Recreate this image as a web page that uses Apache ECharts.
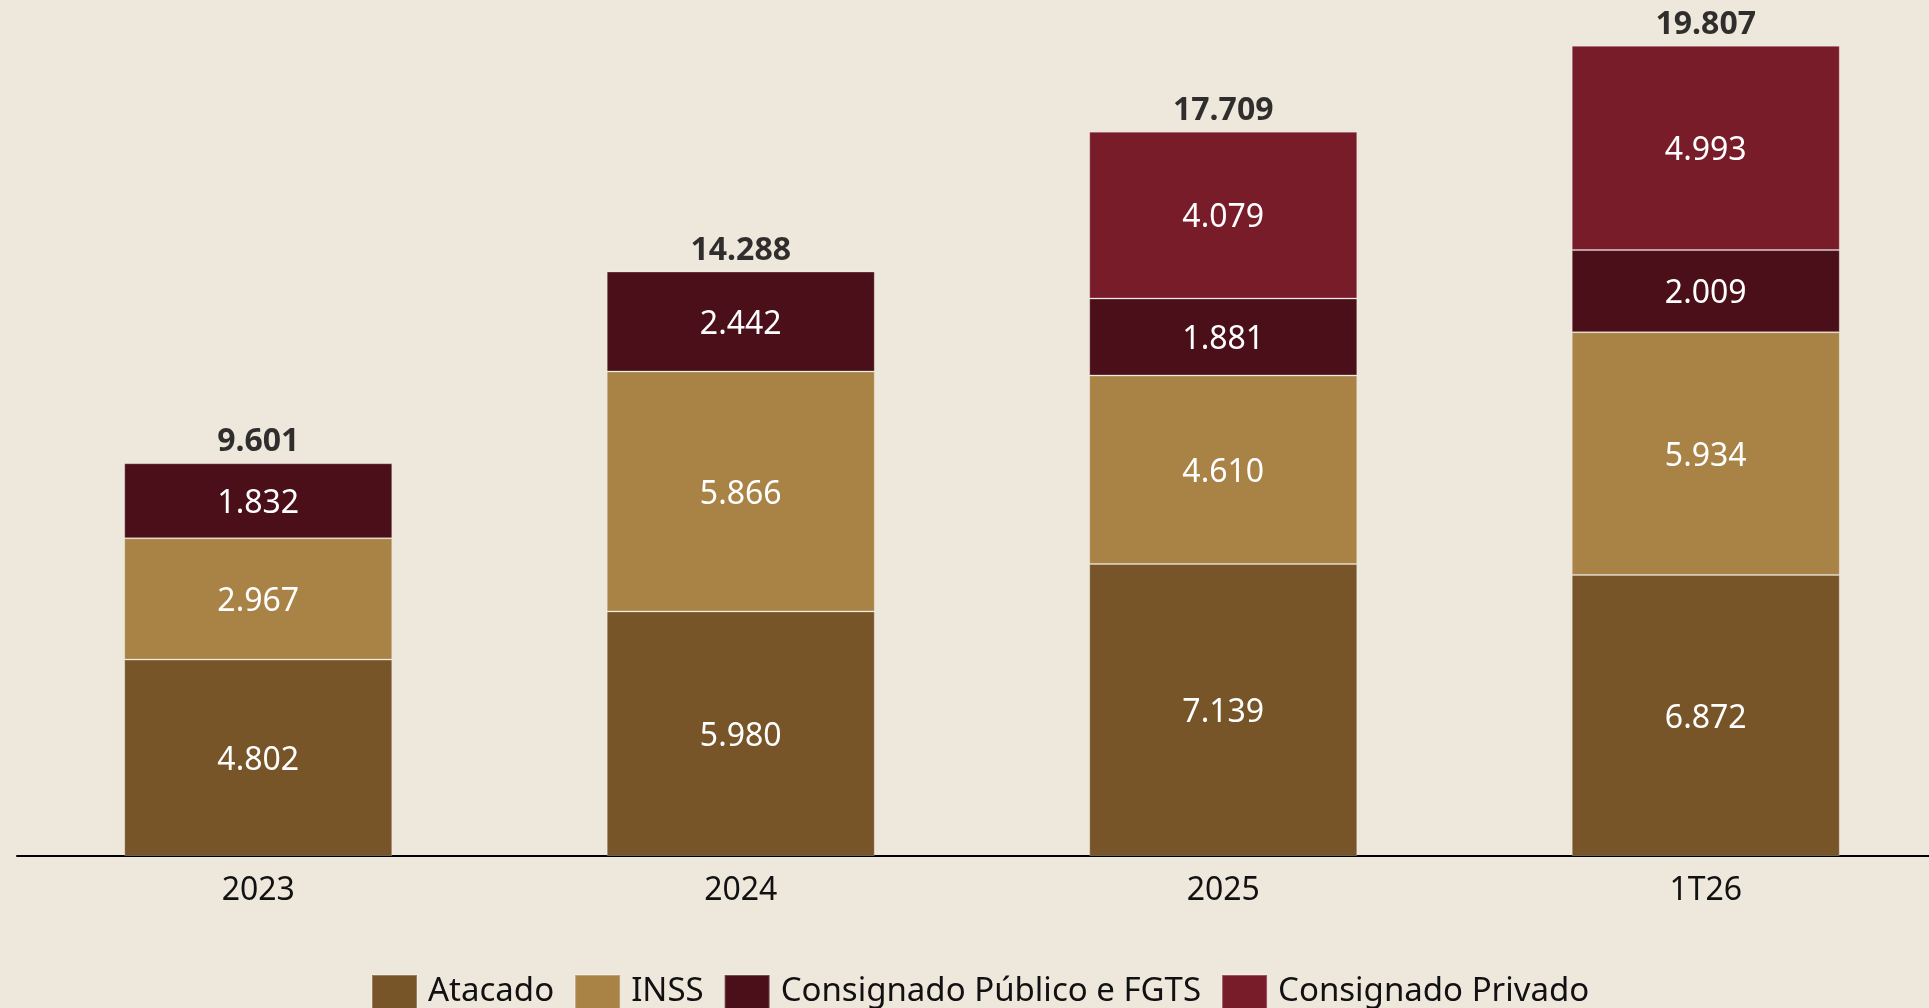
<!DOCTYPE html>
<html><head><meta charset="utf-8">
<script src="https://cdn.jsdelivr.net/npm/echarts@6/dist/echarts.min.js"></script>
<style>html,body{margin:0;padding:0;background:#EEE7DC;overflow:hidden;width:1929px;height:1008px;}#c{width:1947px;height:1008px;}</style>
</head><body><div id="c"></div>
<script>
const categories = ['2023', '2024', '2025', '1T26'];
const atacado = [4802, 5980, 7139, 6872];
const inss = [2967, 5866, 4610, 5934];
const consPublico = [1832, 2442, 1881, 2009];
const consPrivado = ['-', '-', 4079, 4993];
const totals = [9601, 14288, 17709, 19807];
const seriesNames = ['Atacado', 'INSS', 'Consignado Público e FGTS', 'Consignado Privado'];
const colors = ['#775528', '#A88345', '#4A0F18', '#791C2A'];

const fmt = v => String(v).replace(/\B(?=(\d{3})+(?!\d))/g, '.');
const FONT = 'Noto Sans';

function barSeries(name, data, color) {
  return {
    name, type: 'bar', stack: 'a', data, barWidth: 268,
    itemStyle: { color, borderColor: 'rgba(255,255,255,0.25)', borderWidth: 1 },
    label: { show: true, position: 'inside', offset: [0, 3], color: '#fff', fontSize: 32, fontFamily: FONT,
      formatter: p => fmt(p.value) },
    emphasis: { disabled: true }
  };
}

const chart = echarts.init(document.getElementById('c'));
chart.setOption({
  backgroundColor: '#EEE7DC',
  animation: false,
  grid: { left: 17, right: 0, top: 38, bottom: 152 },
  legend: {
    data: seriesNames, top: 969, left: 366,
    itemWidth: 45, itemHeight: 34, itemGap: 20,
    textStyle: { fontSize: 33, fontFamily: FONT, color: '#111', padding: [0, 0, 0, 6] },
    icon: 'rect'
  },
  xAxis: {
    type: 'category', data: categories,
    axisLine: { lineStyle: { color: '#000', width: 2 } },
    axisTick: { show: false },
    axisLabel: { fontSize: 32, fontFamily: FONT, color: '#111', margin: 19 }
  },
  yAxis: { type: 'value', min: 0, max: 20000, show: false, splitLine: { show: false } },
  series: [
    barSeries(seriesNames[0], atacado, colors[0]),
    barSeries(seriesNames[1], inss, colors[1]),
    barSeries(seriesNames[2], consPublico, colors[2]),
    barSeries(seriesNames[3], consPrivado, colors[3]),
    {
      name: 'Total', type: 'scatter', data: totals, symbolSize: 0.01,
      label: { show: true, position: 'top', distance: 5, color: '#000', fontSize: 32,
        fontWeight: 'bold', fontFamily: FONT, formatter: p => fmt(p.value) },
      emphasis: { disabled: true }, z: 10
    }
  ]
});
</script></body></html>
